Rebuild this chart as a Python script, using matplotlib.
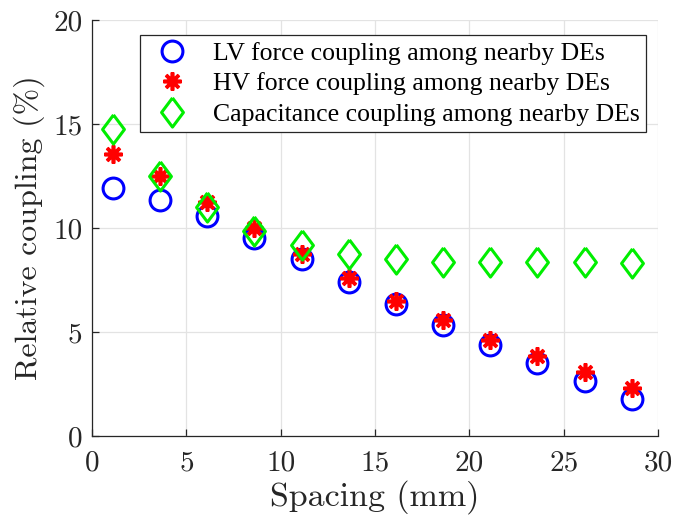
import matplotlib
matplotlib.use('Agg')
import matplotlib.pyplot as plt
import numpy as np

spacing = [1.1, 3.6, 6.1, 8.6, 11.1, 13.6, 16.1, 18.6, 21.1, 23.6, 26.1, 28.6]
lv_force = [11.92, 11.36, 10.56, 9.53, 8.48, 7.38, 6.36, 5.32, 4.39, 3.51, 2.63, 1.78]
hv_force = [13.56, 12.48, 11.25, 10.01, 8.72, 7.61, 6.50, 5.56, 4.63, 3.83, 3.06, 2.31]
capacitance = [14.77, 12.48, 10.98, 9.87, 9.16, 8.75, 8.48, 8.37, 8.35, 8.37, 8.35, 8.32]

plt.rcParams['font.family'] = ['Liberation Serif', 'DejaVu Serif']
plt.rcParams['axes.formatter.use_mathtext'] = True

fig = plt.figure(figsize=(6.87, 5.22), dpi=100)
ax = fig.add_axes([0.134, 0.165, 0.824, 0.797])

# MATLAB style diamond (a bit narrower than tall)
diamond = [(0, 1), (0.75, 0), (0, -1), (-0.75, 0), (0, 1)]

ax.plot(spacing, lv_force, linestyle='none', marker='o', markersize=15,
        markerfacecolor='none', markeredgecolor='#0000ff', markeredgewidth=2.2,
        label='LV force coupling among nearby DEs')
ax.plot(spacing, hv_force, linestyle='none', marker=(8, 2, 0), markersize=13,
        markeredgecolor='#ff0000', markeredgewidth=2.6,
        label='HV force coupling among nearby DEs')
ax.plot(spacing, capacitance, linestyle='none', marker=diamond, markersize=21,
        markerfacecolor='none', markeredgecolor='#00ee00', markeredgewidth=2.2,
        label='Capacitance coupling among nearby DEs')

ax.set_xlim(0, 30)
ax.set_ylim(0, 20)
ax.set_xticks(np.arange(0, 31, 5))
ax.set_yticks(np.arange(0, 21, 5))
ax.set_xticklabels([str(v) for v in range(0, 31, 5)], fontfamily='cmr10')
ax.set_yticklabels([str(v) for v in range(0, 21, 5)], fontfamily='cmr10')
ax.grid(True, color='#e3e3e3', linewidth=0.9)
ax.set_axisbelow(True)

for s in ['top', 'right']:
    ax.spines[s].set_visible(False)
for s in ['left', 'bottom']:
    ax.spines[s].set_color('#262626')
    ax.spines[s].set_linewidth(0.9)

ax.tick_params(direction='in', length=5, width=0.9, labelsize=21,
               colors='#262626', pad=7)
ax.tick_params(axis='x', pad=10)

ax.set_xlabel('Spacing (mm)', fontsize=24.5, fontfamily='cmr10',
              color='#262626', labelpad=3)
ax.set_ylabel('Relative coupling (%)', fontsize=23, fontfamily='cmr10',
              color='#262626', labelpad=6)

leg = ax.legend(loc='upper right', fontsize=18.5, frameon=True, fancybox=False,
                edgecolor='#262626', framealpha=1, borderpad=0.25,
                handletextpad=0.6, labelspacing=0.3, borderaxespad=0.0,
                handlelength=2.0, bbox_to_anchor=(0.979, 0.963))
leg.get_frame().set_linewidth(0.9)

fig.savefig('out.png', dpi=100)
